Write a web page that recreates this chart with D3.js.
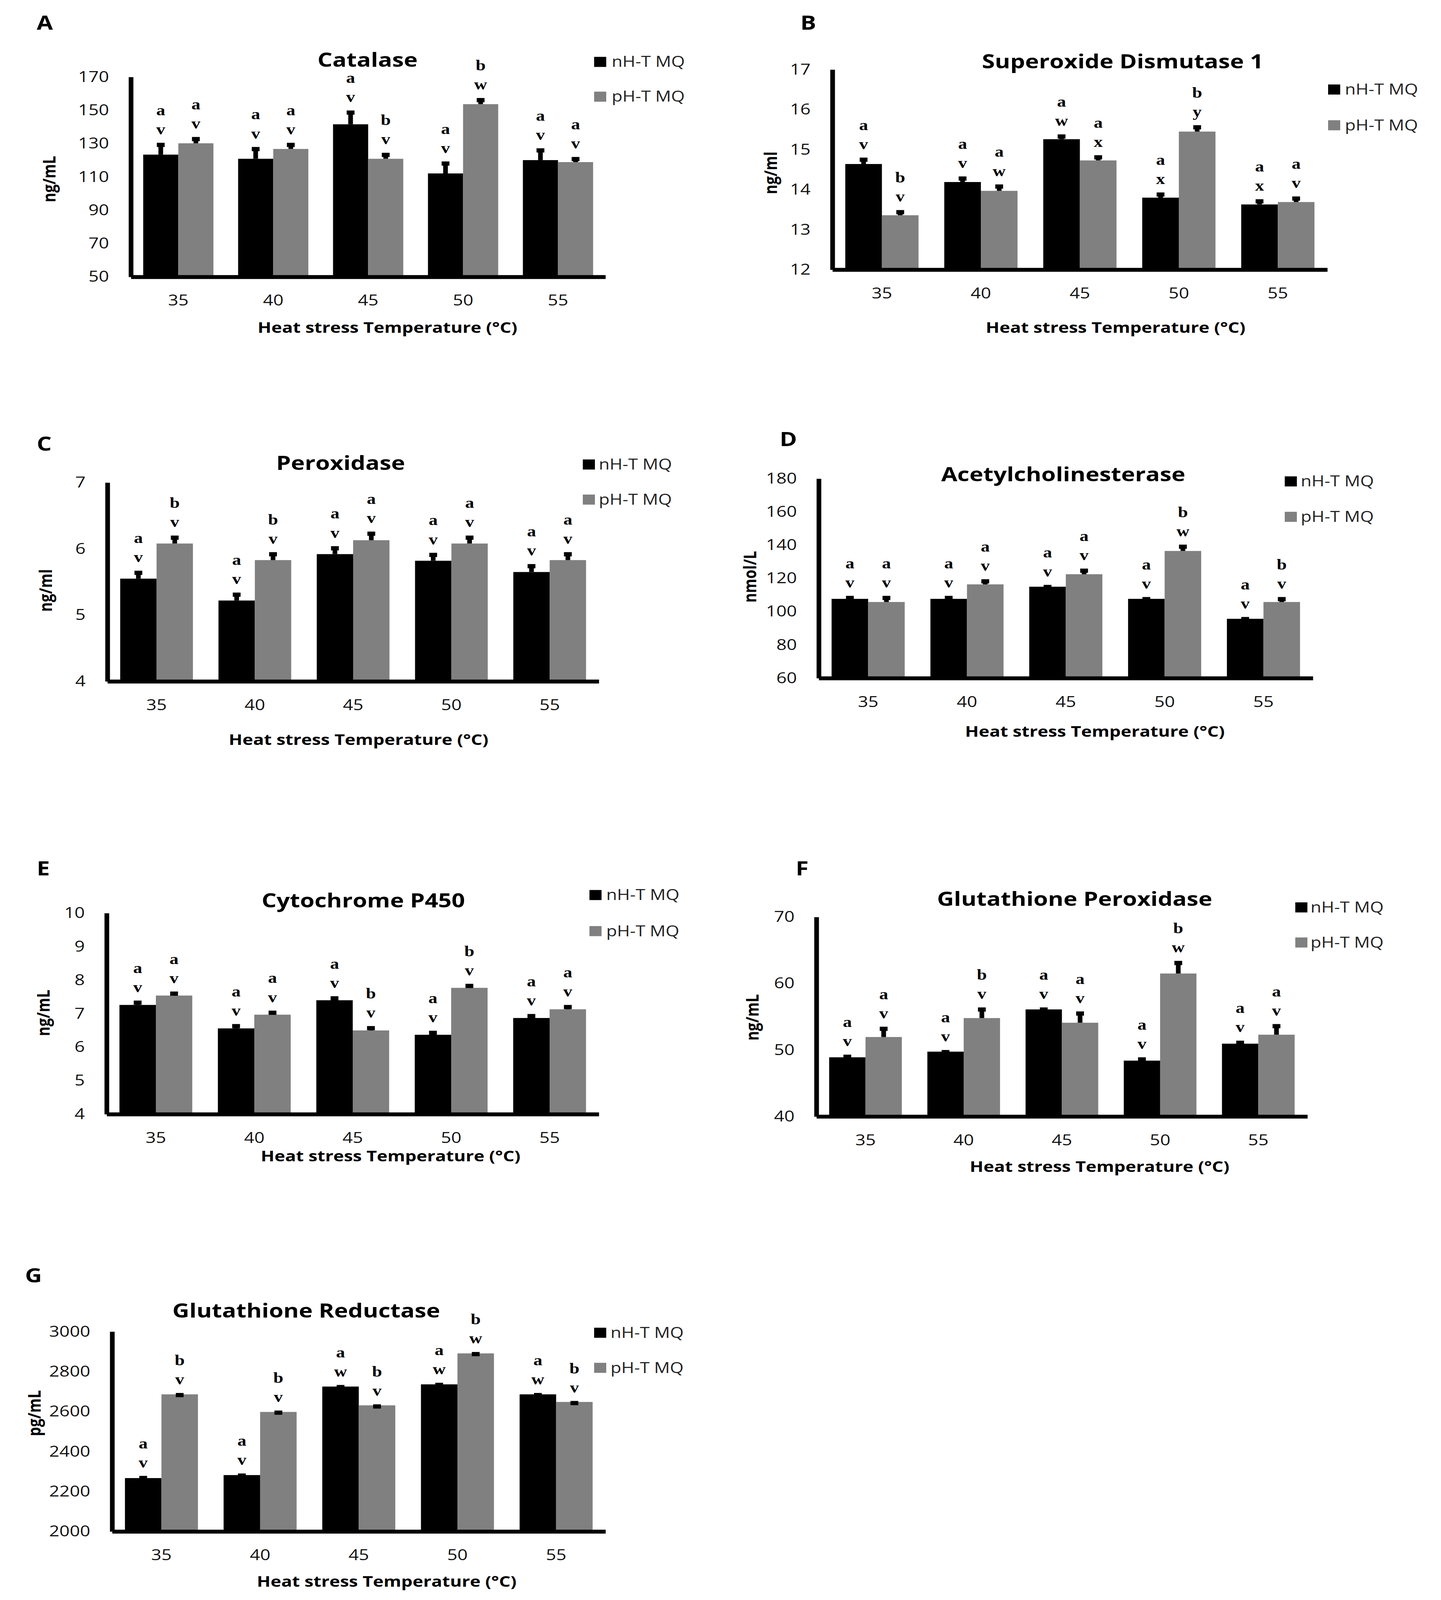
<!DOCTYPE html>
<html>
<head>
<meta charset="utf-8">
<script src="https://cdn.jsdelivr.net/npm/d3@7"></script>
<style>
  html, body { margin: 0; padding: 0; background: #fff; overflow: hidden; }
  svg { display: block; }
  text { font-family: "Open Sans", "Noto Sans", sans-serif; }
  .sig { font-family: "Liberation Serif", "Times New Roman", serif; font-weight: bold; }
</style>
</head>
<body>
<script>
      // heat stress temperatures (x categories) and the two groups
      const temps = ["35", "40", "45", "50", "55"];
      const seriesNames = ["nH-T MQ", "pH-T MQ"];
      const seriesColors = ["#000000", "#808080"];

      // A - Catalase
      const catalaseNH = [123.4, 120.9, 141.6, 112.1, 120.1];
      const catalasePH = [130.2, 126.8, 120.9, 153.7, 118.9];
      const catalaseErrNH = [7.1, 7.1, 8.3, 7.2, 7.1];
      const catalaseErrPH = [3.8, 3.7, 3.6, 3.7, 3.1];
      const catalaseSigNH = ["av", "av", "av", "av", "av"];
      const catalaseSigPH = ["av", "av", "bv", "bw", "av"];
      const catalaseTicks = [50, 70, 90, 110, 130, 150, 170];

      // B - Superoxide Dismutase 1
      const sodNH = [14.64, 14.19, 15.26, 13.8, 13.63];
      const sodPH = [13.36, 13.97, 14.73, 15.45, 13.69];
      const sodErrNH = [0.16, 0.14, 0.12, 0.13, 0.13];
      const sodErrPH = [0.13, 0.16, 0.13, 0.16, 0.14];
      const sodSigNH = ["av", "av", "aw", "ax", "ax"];
      const sodSigPH = ["bv", "aw", "ax", "by", "av"];
      const sodTicks = [12, 13, 14, 15, 16, 17];

      // C - Peroxidase
      const poxNH = [5.55, 5.22, 5.92, 5.82, 5.65];
      const poxPH = [6.08, 5.83, 6.13, 6.08, 5.83];
      const poxErrNH = [0.12, 0.12, 0.12, 0.12, 0.12];
      const poxErrPH = [0.12, 0.12, 0.13, 0.12, 0.12];
      const poxSigNH = ["av", "av", "av", "av", "av"];
      const poxSigPH = ["bv", "bv", "av", "av", "av"];
      const poxTicks = [4, 5, 6, 7];

      // D - Acetylcholinesterase
      const acheNH = [107.7, 107.7, 115.0, 107.7, 95.7];
      const achePH = [105.8, 116.4, 122.5, 136.5, 105.8];
      const acheErrNH = [1.8, 1.8, 1.1, 1.1, 1.1];
      const acheErrPH = [3.7, 3.1, 3.4, 3.8, 3.0];
      const acheSigNH = ["av", "av", "av", "av", "av"];
      const acheSigPH = ["av", "av", "av", "bw", "bv"];
      const acheTicks = [60, 80, 100, 120, 140, 160, 180];

      // E - Cytochrome P450
      const cypNH = [7.26, 6.56, 7.4, 6.37, 6.87];
      const cypPH = [7.54, 6.97, 6.5, 7.77, 7.13];
      const cypErrNH = [0.13, 0.13, 0.12, 0.12, 0.12];
      const cypErrPH = [0.12, 0.12, 0.13, 0.12, 0.13];
      const cypSigNH = ["av", "av", "av", "av", "av"];
      const cypSigPH = ["av", "av", "bv", "bv", "av"];
      const cypTicks = [4, 5, 6, 7, 8, 9, 10];

      // F - Glutathione Peroxidase
      const gpxNH = [48.9, 49.75, 56.1, 48.4, 50.95];
      const gpxPH = [51.95, 54.8, 54.1, 61.5, 52.3];
      const gpxErrNH = [0.4, 0.25, 0.3, 0.5, 0.45];
      const gpxErrPH = [1.55, 1.6, 1.7, 1.9, 1.6];
      const gpxSigNH = ["av", "av", "av", "av", "av"];
      const gpxSigPH = ["av", "bv", "av", "bw", "av"];
      const gpxTicks = [40, 50, 60, 70];

      // G - Glutathione Reductase
      const grNH = [2267, 2282, 2725, 2736, 2686];
      const grPH = [2686, 2598, 2631, 2891, 2648];
      const grErrNH = [11, 8, 8, 8, 7];
      const grErrPH = [7, 7, 5, 7, 5];
      const grSigNH = ["av", "av", "aw", "aw", "aw"];
      const grSigPH = ["bv", "bv", "bv", "bw", "bv"];
      const grTicks = [2000, 2200, 2400, 2600, 2800, 3000];

      const xTitle = "Heat stress Temperature (°C)";

      // panel layout, in pixels of the 3689 x 4924 figure
      const panels = [
        { id: "A", title: "Catalase", unit: "ng/mL",
          nH: catalaseNH, pH: catalasePH, errNH: catalaseErrNH, errPH: catalaseErrPH,
          sigNH: catalaseSigNH, sigPH: catalaseSigPH, ticks: catalaseTicks,
          x0: 335, x1: 1550, yTop: 237, yBot: 852, titleX: 941, titleY: 206,
          labelX: 94, labelY: 91, legX: 1521, legY: [190, 297], legTextX: 1566,
          unitX: 126, unitY: 551, xTitleX: 992, xTitleY: 1008 },
        { id: "B", title: "Superoxide Dismutase 1", unit: "ng/ml",
          nH: sodNH, pH: sodPH, errNH: sodErrNH, errPH: sodErrPH,
          sigNH: sodSigNH, sigPH: sodSigPH, ticks: sodTicks,
          x0: 2131, x1: 3398, yTop: 214, yBot: 830, titleX: 2874, titleY: 210,
          labelX: 2049, labelY: 91, legX: 3400, legY: [275, 385], legTextX: 3443,
          unitX: 1973, unitY: 532, xTitleX: 2856, xTitleY: 1008 },
        { id: "C", title: "Peroxidase", unit: "ng/ml",
          nH: poxNH, pH: poxPH, errNH: poxErrNH, errPH: poxErrPH,
          sigNH: poxSigNH, sigPH: poxSigPH, ticks: poxTicks,
          x0: 275, x1: 1533, yTop: 1485, yBot: 2097, titleX: 872, titleY: 1446,
          labelX: 94, labelY: 1387, legX: 1492, legY: [1429, 1537], legTextX: 1533,
          unitX: 117, unitY: 1817, xTitleX: 918, xTitleY: 2276 },
        { id: "D", title: "Acetylcholinesterase", unit: "nmol/L",
          nH: acheNH, pH: achePH, errNH: acheErrNH, errPH: acheErrPH,
          sigNH: acheSigNH, sigPH: acheSigPH, ticks: acheTicks,
          x0: 2096, x1: 3361, yTop: 1473, yBot: 2087, titleX: 2722, titleY: 1481,
          labelX: 1996, labelY: 1373, legX: 3289, legY: [1481, 1590], legTextX: 3330,
          unitX: 1920, unitY: 1775, xTitleX: 2803, xTitleY: 2251 },
        { id: "E", title: "Cytochrome P450", unit: "ng/mL",
          nH: cypNH, pH: cypPH, errNH: cypErrNH, errPH: cypErrPH,
          sigNH: cypSigNH, sigPH: cypSigPH, ticks: cypTicks,
          x0: 273, x1: 1533, yTop: 2810, yBot: 3429, titleX: 930, titleY: 2792,
          labelX: 94, labelY: 2694, legX: 1509, legY: [2754, 2865], legTextX: 1552,
          unitX: 111, unitY: 3117, xTitleX: 1000, xTitleY: 3558 },
        { id: "F", title: "Glutathione Peroxidase", unit: "ng/mL",
          nH: gpxNH, pH: gpxPH, errNH: gpxErrNH, errPH: gpxErrPH,
          sigNH: gpxSigNH, sigPH: gpxSigPH, ticks: gpxTicks,
          x0: 2090, x1: 3347, yTop: 2822, yBot: 3436, titleX: 2751, titleY: 2788,
          labelX: 2037, labelY: 2694, legX: 3316, legY: [2792, 2900], legTextX: 3355,
          unitX: 1926, unitY: 3131, xTitleX: 2815, xTitleY: 3590 },
        { id: "G", title: "Glutathione Reductase", unit: "pg/mL",
          nH: grNH, pH: grPH, errNH: grErrNH, errPH: grErrPH,
          sigNH: grSigNH, sigPH: grSigPH, ticks: grTicks,
          x0: 287, x1: 1550, yTop: 4098, yBot: 4713, titleX: 784, titleY: 4055,
          labelX: 64, labelY: 3947, legX: 1521, legY: [4101, 4209], legTextX: 1563,
          unitX: 88, unitY: 4349, xTitleX: 990, xTitleY: 4867 },
      ];

      // the figure is 3689 x 4924; fit it to whatever viewport we get
      const figW = 3689;
      const figH = 4924;
      const vw = window.innerWidth || figW;
      const vh = window.innerHeight || figH;

      const svg = d3
        .select("body")
        .append("svg")
        .attr("width", vw)
        .attr("height", vh)
        .attr("viewBox", "0 0 " + figW + " " + figH)
        .attr("preserveAspectRatio", "none")
        .style("background", "#fff");

      function drawPanel(p) {
        const g = svg.append("g").attr("class", "panel-" + p.id);

        const x = d3
          .scaleBand()
          .domain(temps)
          .range([p.x0, p.x1])
          .paddingInner(0.26)
          .paddingOuter(0.13);
        const xs = d3.scaleBand().domain([0, 1]).range([0, x.bandwidth()]);
        const y = d3
          .scaleLinear()
          .domain([p.ticks[0], p.ticks[p.ticks.length - 1]])
          .range([p.yBot, p.yTop]);

        const rows = [];
        temps.forEach((t, i) => {
          rows.push({ t: t, s: 0, v: p.nH[i], e: p.errNH[i], sig: p.sigNH[i] });
          rows.push({ t: t, s: 1, v: p.pH[i], e: p.errPH[i], sig: p.sigPH[i] });
        });
        const cx = (d) => x(d.t) + xs(d.s) + xs.bandwidth() / 2;

        g.selectAll(".bar")
          .data(rows)
          .join("rect")
          .attr("class", "bar")
          .attr("x", (d) => x(d.t) + xs(d.s))
          .attr("width", xs.bandwidth())
          .attr("y", (d) => y(d.v))
          .attr("height", (d) => y(p.ticks[0]) - y(d.v))
          .attr("fill", (d) => seriesColors[d.s]);

        // error bars: thick stem and a small square cap
        g.selectAll(".stem")
          .data(rows)
          .join("line")
          .attr("class", "stem")
          .attr("x1", cx)
          .attr("x2", cx)
          .attr("y1", (d) => y(d.v))
          .attr("y2", (d) => y(d.v + d.e) + 6)
          .attr("stroke", "#000")
          .attr("stroke-width", 12);

        g.selectAll(".cap")
          .data(rows)
          .join("rect")
          .attr("class", "cap")
          .attr("x", (d) => cx(d) - 10)
          .attr("y", (d) => y(d.v + d.e))
          .attr("width", 20)
          .attr("height", 13)
          .attr("fill", "#000");

        // significance letters, two stacked above each error bar
        g.selectAll(".sig1")
          .data(rows)
          .join("text")
          .attr("class", "sig")
          .attr("x", cx)
          .attr("y", (d) => y(d.v + d.e) - 85)
          .attr("text-anchor", "middle")
          .attr("font-size", 46)
          .text((d) => d.sig[0]);

        g.selectAll(".sig2")
          .data(rows)
          .join("text")
          .attr("class", "sig")
          .attr("x", cx)
          .attr("y", (d) => y(d.v + d.e) - 26)
          .attr("text-anchor", "middle")
          .attr("font-size", 46)
          .text((d) => d.sig[1]);

        // axes
        const yAxis = g
          .append("g")
          .attr("transform", "translate(" + p.x0 + ",0)")
          .call(
            d3.axisLeft(y)
              .tickValues(p.ticks)
              .tickFormat(d3.format("d"))
              .tickSize(0)
              .tickPadding(56)
          );
        yAxis.select(".domain").attr("stroke-width", 12);
        yAxis
          .selectAll("text")
          .attr("font-family", "'Open Sans', sans-serif")
          .attr("font-size", 46)
          .attr("fill", "#111");

        const xAxis = g
          .append("g")
          .attr("transform", "translate(0," + p.yBot + ")")
          .call(d3.axisBottom(x).tickSize(0).tickPadding(56));
        xAxis.select(".domain").attr("stroke-width", 12);
        xAxis
          .selectAll("text")
          .attr("font-family", "'Open Sans', sans-serif")
          .attr("font-size", 46)
          .attr("fill", "#111");

        // titles and labels
        g.append("text")
          .attr("x", p.labelX)
          .attr("y", p.labelY)
          .attr("font-size", 60)
          .attr("font-weight", "bold")
          .text(p.id);

        g.append("text")
          .attr("x", p.titleX)
          .attr("y", p.titleY)
          .attr("text-anchor", "middle")
          .attr("font-size", 60)
          .attr("font-weight", "bold")
          .text(p.title);

        g.append("text")
          .attr("transform", "translate(" + p.unitX + "," + p.unitY + ") rotate(-90)")
          .attr("text-anchor", "middle")
          .attr("dy", "0.35em")
          .attr("font-size", 45)
          .attr("font-weight", "bold")
          .text(p.unit);

        g.append("text")
          .attr("x", p.xTitleX)
          .attr("y", p.xTitleY)
          .attr("dy", "0.35em")
          .attr("text-anchor", "middle")
          .attr("font-size", 46)
          .attr("font-weight", "bold")
          .text(xTitle);

        // legend
        const leg = g
          .selectAll(".leg")
          .data(seriesNames)
          .join("g")
          .attr("class", "leg")
          .attr("transform", (d, i) => "translate(0," + p.legY[i] + ")");
        leg.append("rect")
          .attr("x", p.legX)
          .attr("y", -15)
          .attr("width", 31)
          .attr("height", 31)
          .attr("fill", (d, i) => seriesColors[i]);
        leg.append("text")
          .attr("x", p.legTextX)
          .attr("y", 16)
          .attr("font-size", 45)
          .attr("fill", "#222")
          .text((d) => d);
      }

      panels.forEach(drawPanel);
</script>
</body>
</html>
